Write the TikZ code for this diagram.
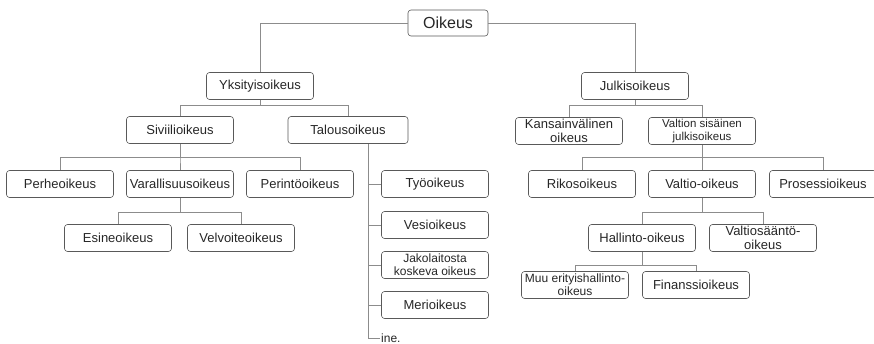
\documentclass[tikz,border=0pt]{standalone}
\usepackage{fontspec}
\setmainfont{Liberation Sans}
\usepackage{tikz}
\usetikzlibrary{positioning}

\begin{document}
\begin{tikzpicture}[x=1pt, y=-1pt,
    box/.style={rectangle, draw=black!65, line width=0.6pt, rounded corners=3pt, minimum width=107pt, minimum height=27pt, inner sep=1pt, align=center, text=black!85, font=\fontsize{13}{14}\selectfont},
    root/.style={box, minimum width=80pt, minimum height=26pt, font=\fontsize{16}{18}\selectfont},
    small/.style={box, font=\fontsize{12}{13}\selectfont},
    tiny/.style={box, font=\fontsize{11.5}{12.5}\selectfont},
    line/.style={draw=black!45, line width=0.5pt}
]
    \useasboundingbox (0,0) rectangle (874,344);

    \node[root] (oikeus) at (448,23) {Oikeus};
    \node[box] (yksityis) at (260,86) {Yksityisoikeus};
    \node[box] (julkis) at (635,86) {Julkisoikeus};

    % yksityisoikeus
    \node[box] (siviili) at (180,130) {Siviilioikeus};
    \node[box, minimum width=120pt] (talous) at (348,130) {Talousoikeus};
    \node[box] (perhe) at (60,184) {Perheoikeus};
    \node[box] (varallisuus) at (180,184) {Varallisuusoikeus};
    \node[box] (perinto) at (300,184) {Perintöoikeus};
    \node[box] (esine) at (118,238) {Esineoikeus};
    \node[box] (velvoite) at (241,238) {Velvoiteoikeus};
    \node[box] (tyo) at (435,184) {Työoikeus};
    \node[box] (vesi) at (435,225) {Vesioikeus};
    \node[small] (jakolaitos) at (435,265) {Jakolaitosta\\koskeva oikeus};
    \node[box] (meri) at (435,305) {Merioikeus};
    \node[anchor=west, inner sep=1pt, text=black!85, font=\fontsize{12}{13}\selectfont] (ine) at (380,338) {ine.};

    % julkisoikeus
    \node[box] (kansainvalinen) at (569,131) {Kansainvälinen\\oikeus};
    \node[tiny] (sisainen) at (702,131) {Valtion sisäinen\\julkisoikeus};
    \node[box] (rikos) at (582,184) {Rikosoikeus};
    \node[box] (valtio) at (702,184) {Valtio-oikeus};
    \node[box] (prosessi) at (823,184) {Prosessioikeus};
    \node[box] (hallinto) at (642,238) {Hallinto-oikeus};
    \node[box] (valtiosaanto) at (763,238) {Valtiosääntö-\\oikeus};
    \node[small] (muu) at (575,285) {Muu erityishallinto-\\oikeus};
    \node[box] (finanssi) at (696,285) {Finanssioikeus};

    \draw[line] (oikeus.west) -| (yksityis.north);
    \draw[line] (oikeus.east) -| (julkis.north);

    \draw[line] (yksityis.south) -- ++(0,5) -| (siviili.north);
    \draw[line] (yksityis.south) -- ++(0,5) -| (talous.north);
    \draw[line] (siviili.south) -- ++(0,13) -| (perhe.north);
    \draw[line] (siviili.south) -- ++(0,13) -| (varallisuus.north);
    \draw[line] (siviili.south) -- ++(0,13) -| (perinto.north);
    \draw[line] (varallisuus.south) -- ++(0,14) -| (esine.north);
    \draw[line] (varallisuus.south) -- ++(0,14) -| (velvoite.north);
    \draw[line] ([xshift=20pt]talous.south) |- (tyo.west);
    \draw[line] ([xshift=20pt]talous.south) |- (vesi.west);
    \draw[line] ([xshift=20pt]talous.south) |- (jakolaitos.west);
    \draw[line] ([xshift=20pt]talous.south) |- (meri.west);
    \draw[line] ([xshift=20pt]talous.south) |- (ine.west);

    \draw[line] (julkis.south) -- ++(0,5) -| (kansainvalinen.north);
    \draw[line] (julkis.south) -- ++(0,5) -| (sisainen.north);
    \draw[line] (sisainen.south) -- ++(0,12) -| (rikos.north);
    \draw[line] (sisainen.south) -- ++(0,12) -| (valtio.north);
    \draw[line] (sisainen.south) -- ++(0,12) -| (prosessi.north);
    \draw[line] (valtio.south) -- ++(0,14) -| (hallinto.north);
    \draw[line] (valtio.south) -- ++(0,14) -| (valtiosaanto.north);
    \draw[line] (hallinto.south) -- ++(0,13) -| (muu.north);
    \draw[line] (hallinto.south) -- ++(0,13) -| (finanssi.north);
\end{tikzpicture}
\end{document}
